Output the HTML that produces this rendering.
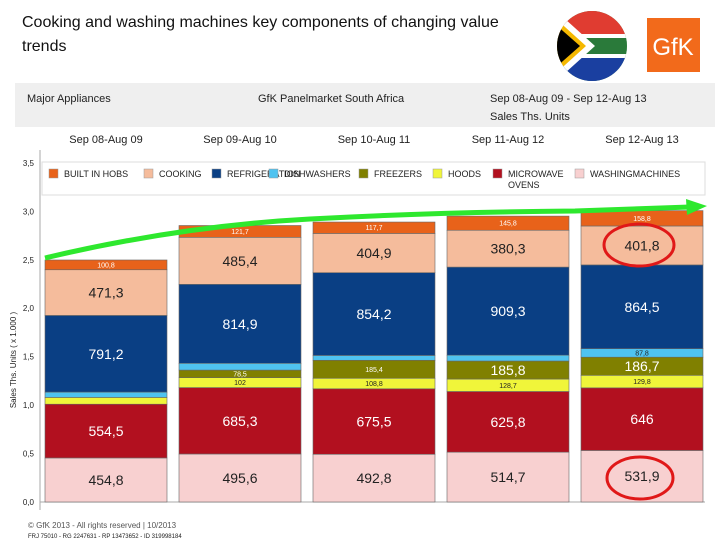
<!DOCTYPE html>
<html><head><meta charset="utf-8"><style>
body{margin:0;background:#fff;font-family:"Liberation Sans",sans-serif}
#wrap{position:relative;width:720px;height:540px;overflow:hidden}
</style></head><body>
<div id="wrap">
<svg id="svg" width="720" height="540">
<text x="22" y="27" font-size="16" fill="#111">Cooking and washing machines key components of changing value</text>
<text x="22" y="51" font-size="16" fill="#111">trends</text>
<defs><clipPath id="fc"><circle cx="592" cy="46" r="35"/></clipPath></defs>
<g clip-path="url(#fc)">
<rect x="555" y="10" width="75" height="72" fill="#2a7a3a"/>
<rect x="555" y="10" width="75" height="26" fill="#e03c31"/>
<rect x="555" y="56" width="75" height="26" fill="#1a3fa0"/>
<rect x="555" y="34" width="75" height="24" fill="#fff"/>
<rect x="555" y="38" width="75" height="16" fill="#2a7a3a"/>
<polygon points="555,10 595,46 555,82" fill="#fff"/>
<polygon points="555,18 586,46 555,74" fill="#f5b800"/>
<polygon points="555,24 580,46 555,68" fill="#000"/>
</g>
<rect x="647" y="18" width="53" height="54" fill="#f26a1b"/>
<text x="673" y="55" font-size="24" fill="#fff" text-anchor="middle">GfK</text>
<rect x="15" y="83" width="700" height="44" fill="#efefef"/>
<text x="27" y="102" font-size="11" fill="#222">Major Appliances</text>
<text x="258" y="102" font-size="11" fill="#222">GfK Panelmarket South Africa</text>
<text x="490" y="102" font-size="11" fill="#222">Sep 08-Aug 09 - Sep 12-Aug 13</text>
<text x="490" y="120" font-size="11" fill="#222">Sales Ths. Units</text>
<rect x="42" y="162" width="663" height="33" fill="#fff" stroke="#ddd"/>
<text transform="translate(16,360) rotate(-90)" font-size="8" fill="#222" text-anchor="middle">Sales Ths. Units ( x 1.000 )</text>
<line x1="40" y1="150" x2="40" y2="510" stroke="#aaa"/>
<line x1="40" y1="502" x2="705" y2="502" stroke="#aaa"/>
<g id="g"></g>
<path d="M45,258 Q180,226 310,219 T575,211 L690,207" fill="none" stroke="#2ee82e" stroke-width="5"/>
<polygon points="686,199 707,206 687,215" fill="#2ee82e"/>
<ellipse cx="639" cy="245" rx="35" ry="21" fill="none" stroke="#e01818" stroke-width="3"/>
<ellipse cx="640" cy="478" rx="33" ry="21" fill="none" stroke="#e01818" stroke-width="3"/>
<text x="28" y="528" font-size="8" fill="#555">© GfK 2013 - All rights reserved | 10/2013</text>
<text x="28" y="538" font-size="6" fill="#222">FRJ 75010 - RG 2247631 - RP 13473652 - ID 319998184</text>
</svg>
</div>
<script>
const periods=["Sep 08-Aug 09","Sep 09-Aug 10","Sep 10-Aug 11","Sep 11-Aug 12","Sep 12-Aug 13"];
const seriesNames=["WASHINGMACHINES","MICROWAVE OVENS","HOODS","FREEZERS","DISHWASHERS","REFRIGERATION","COOKING","BUILT IN HOBS"];
const washing=[454.8,495.6,492.8,514.7,531.9];
const microwave=[554.5,685.3,675.5,625.8,646];
const hoods=[70,102,108.8,128.7,129.8];
const freezers=[0,78.5,185.4,185.8,186.7];
const dishwashers=[55,70,50,60,87.8];
const refrigeration=[791.2,814.9,854.2,909.3,864.5];
const cooking=[471.3,485.4,404.9,380.3,401.8];
const hobs=[100.8,121.7,117.7,145.8,158.8];
const yTicks=["0,0","0,5","1,0","1,5","2,0","2,5","3,0","3,5"];
const series=[washing,microwave,hoods,freezers,dishwashers,refrigeration,cooking,hobs];
const colors=["#f8d0d0","#b2101f","#f0f53a","#808000","#4fc3f0","#0a3f84","#f5bc9c","#e8621a"];
const txtCol=["#222","#fff","#222","#fff","#222","#fff","#222","#fff"];
const NS="http://www.w3.org/2000/svg";
const g=document.getElementById('g');
const y=v=>502-v*0.0969;
const x=i=>45+i*134;
const bw=122;
function mk(t,a){const e=document.createElementNS(NS,t);for(const k in a)e.setAttribute(k,a[k]);return e;}
yTicks.forEach((t,i)=>{const tx=mk('text',{x:34,y:502-i*48.45+3,'font-size':8,fill:'#222','text-anchor':'end'});tx.textContent=t;


g.appendChild(tx);});
periods.forEach((p,i)=>{const tx=mk('text',{x:x(i)+bw/2,y:143,'font-size':11,fill:'#222','text-anchor':'middle'});tx.textContent=p;


g.appendChild(tx);});
// legend
const lx=[62,157,225,282,372,446,506,588];
const legOrder=[7,6,5,4,3,2,1,0];
legOrder.forEach((s,k)=>{const r=mk('rect',{x:lx[k]-13,y:169,width:9,height:9,fill:colors[s],stroke:'#999','stroke-width':0.5});


g.appendChild(r);
const nm=seriesNames[s];const tx=mk('text',{x:lx[k]+2,y:177,'font-size':9,fill:'#222'});
if(nm==="MICROWAVE OVENS"){tx.textContent="MICROWAVE";const t2=mk('text',{x:lx[k]+2,y:188,'font-size':9,fill:'#222'});t2.textContent="OVENS";


g.appendChild(t2);}else tx.textContent=nm;


g.appendChild(tx);});
periods.forEach((p,i)=>{let cum=0;series.forEach((s,k)=>{const v=s[i];if(v<=0)return;const y0=y(cum),y1=y(cum+v);
const r=mk('rect',{x:x(i),y:y1,width:bw,height:y0-y1,fill:colors[k],stroke:'#666','stroke-width':0.6});


g.appendChild(r);
if(v>=75){const big=v>=185.5;const tx=mk('text',{x:x(i)+bw/2,y:(y0+y1)/2+(big?5:2.5),'font-size':big?14:7,fill:txtCol[k],'text-anchor':'middle'});
tx.textContent=String(v).replace('.',',');


g.appendChild(tx);}
cum+=v;});});
</script>
</body></html>
